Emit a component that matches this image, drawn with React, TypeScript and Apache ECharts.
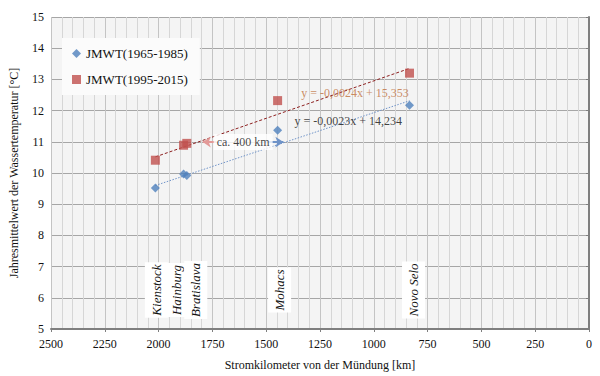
import React, { useEffect, useRef } from "react";
import * as echarts from "echarts";

const FONT = "'Liberation Serif', 'Times New Roman', serif";

const stations = ["Kienstock", "Hainburg", "Bratislava", "Mohacs", "Novo Selo"];
const stationKm = [2015, 1884, 1869, 1447, 834];
const stationLabelShift = [1, -7, 9, 2, 4];
const jmwt1965 = [9.52, 9.97, 9.92, 11.37, 12.17];
const jmwt1995 = [10.41, 10.89, 10.95, 12.32, 13.2];

const trendBlue = { slope: -0.0023, intercept: 14.234 };
const trendRed = { slope: -0.0024, intercept: 15.353 };
const trendRange = [2015, 834];

const xTicks = { min: 0, max: 2500, interval: 250 };
const yTicks = { min: 5, max: 15, interval: 1 };

const eqRedText = "y = -0,0024x + 15,353";
const eqBlueText = "y = -0,0023x + 14,234";
const eqRedPos = [1087, 12.58];
const eqBluePos = [1119, 11.66];
const stationLabelY = 6.25;
const distText = "ca. 400 km";
const distPos = [1607, 10.99];
const arrowRed = [[1731, 10.99], [1795, 10.99]];
const arrowBlue = [[1506, 10.99], [1420, 10.99]];

const BLUE = "#4f81bd";
const RED = "#c0504d";

export default function App() {
  const ref = useRef<HTMLDivElement>(null);
  useEffect(() => {
    if (!ref.current) return;
    const chart = echarts.init(ref.current, undefined, { renderer: "svg" });
    const trendData = (t: { slope: number; intercept: number }) =>
      trendRange.map((x) => [x, t.slope * x + t.intercept]);
    chart.setOption({
      animation: false,
      textStyle: { fontFamily: FONT },
      grid: {
        left: 46,
        right: 11,
        top: 17,
        bottom: 45,
        show: true,
        backgroundColor: "#f4f4f4",
        borderWidth: 0,
      },
      legend: {
        orient: "vertical",
        left: 62,
        top: 38,
        backgroundColor: "#fbfbfb",
        padding: [8, 12, 8, 10],
        itemWidth: 9,
        itemHeight: 9,
        itemGap: 11,
        textStyle: { fontFamily: FONT, fontSize: 13, color: "#111", lineHeight: 15 },
        data: [
          { name: "JMWT(1965-1985)", icon: "diamond" },
          { name: "JMWT(1995-2015)", icon: "rect" },
        ],
      },
      xAxis: {
        type: "value",
        inverse: true,
        min: xTicks.min,
        max: xTicks.max,
        interval: xTicks.interval,
        name: "Stromkilometer von der Mündung [km]",
        nameLocation: "middle",
        nameGap: 30,
        nameTextStyle: { fontFamily: FONT, fontSize: 12, color: "#111" },
        axisLine: { show: true, onZero: false, lineStyle: { color: "#7f7f7f", width: 2 } },
        axisTick: { show: true, length: 3, lineStyle: { color: "#7f7f7f" } },
        axisLabel: {
          fontFamily: FONT,
          fontSize: 12,
          color: "#111",
          margin: 9,
          formatter: (v: number) => String(v),
        },
        splitLine: { show: true, lineStyle: { color: "#c4c4c4", width: 1 } },
        minorTick: { show: false, splitNumber: 5 },
        minorSplitLine: { show: true, lineStyle: { color: "#d6d6d6", width: 1 } },
      },
      yAxis: {
        type: "value",
        min: yTicks.min,
        max: yTicks.max,
        interval: yTicks.interval,
        name: "Jahresmittelwert der Wassertemperatur [°C]",
        nameLocation: "middle",
        nameGap: 31,
        nameTextStyle: { fontFamily: FONT, fontSize: 12, color: "#111" },
        axisLine: { show: true, lineStyle: { color: "#7f7f7f", width: 2 } },
        axisTick: { show: true, length: 3, lineStyle: { color: "#7f7f7f" } },
        axisLabel: {
          fontFamily: FONT,
          fontSize: 12,
          color: "#111",
          margin: 7,
          formatter: (v: number) => String(v),
        },
        splitLine: { show: true, lineStyle: { color: "#a6a6a6", width: 1 } },
      },
      series: [
        {
          name: "trendRed",
          type: "line",
          data: trendData(trendRed),
          symbol: "none",
          lineStyle: { color: "#8c1f1f", width: 1, type: [3, 2] },
          z: 2,
        },
        {
          name: "trendBlue",
          type: "line",
          data: trendData(trendBlue),
          symbol: "none",
          lineStyle: { color: "#6f93c8", width: 1, type: [1.5, 1.5] },
          z: 2,
        },
        {
          name: "JMWT(1965-1985)",
          type: "scatter",
          symbol: "diamond",
          symbolSize: 9,
          itemStyle: { color: BLUE },
          data: stationKm.map((k, i) => [k, jmwt1965[i]]),
          z: 5,
        },
        {
          name: "JMWT(1995-2015)",
          type: "scatter",
          symbol: "rect",
          symbolSize: 9,
          itemStyle: { color: RED },
          data: stationKm.map((k, i) => [k, jmwt1995[i]]),
          z: 5,
        },
        {
          name: "annotations",
          type: "scatter",
          symbolSize: 0,
          silent: true,
          data: [
            { value: eqRedPos, name: eqRedText, label: { color: "#c0703c" } },
            { value: eqBluePos, name: eqBlueText, label: { color: "#111" } },
            {
              value: distPos,
              name: distText,
              label: { color: "#111", backgroundColor: "#ffffff", padding: [2, 3] },
            },
          ],
          label: {
            show: true,
            position: "inside",
            formatter: "{b}",
            fontFamily: FONT,
            fontSize: 12,
          },
          markLine: {
            silent: true,
            symbol: ["none", "arrow"],
            symbolSize: [8, 8],
            label: { show: false },
            data: [
              [
                { coord: arrowRed[0], lineStyle: { color: "#e39a98", width: 2, type: "solid" }, itemStyle: { color: "#e39a98" } },
                { coord: arrowRed[1] },
              ],
              [
                { coord: arrowBlue[0], lineStyle: { color: "#6f93c8", width: 2, type: "solid" }, itemStyle: { color: "#6f93c8" } },
                { coord: arrowBlue[1] },
              ],
            ],
          },
          z: 6,
        },
      ],
    });
    const stationGraphics = stationKm.map((k, i) => {
      const p = chart.convertToPixel({ gridIndex: 0 }, [k, stationLabelY]) as number[];
      return {
        type: "text",
        x: p[0] + stationLabelShift[i],
        y: p[1],
        rotation: Math.PI / 2,
        z: 10,
        silent: true,
        style: {
          text: stations[i],
          font: "italic 13px 'Liberation Serif', serif",
          fill: "#111",
          align: "center",
          verticalAlign: "middle",
          backgroundColor: "#ffffff",
          padding: [5, 2, 5, 2],
        },
      };
    });
    chart.setOption({ graphic: { elements: stationGraphics } });
    return () => chart.dispose();
  }, []);
  return <div ref={ref} style={{ width: 600, height: 376, position: "absolute", left: 0, top: 0, background: "#fff" }} />;
}
